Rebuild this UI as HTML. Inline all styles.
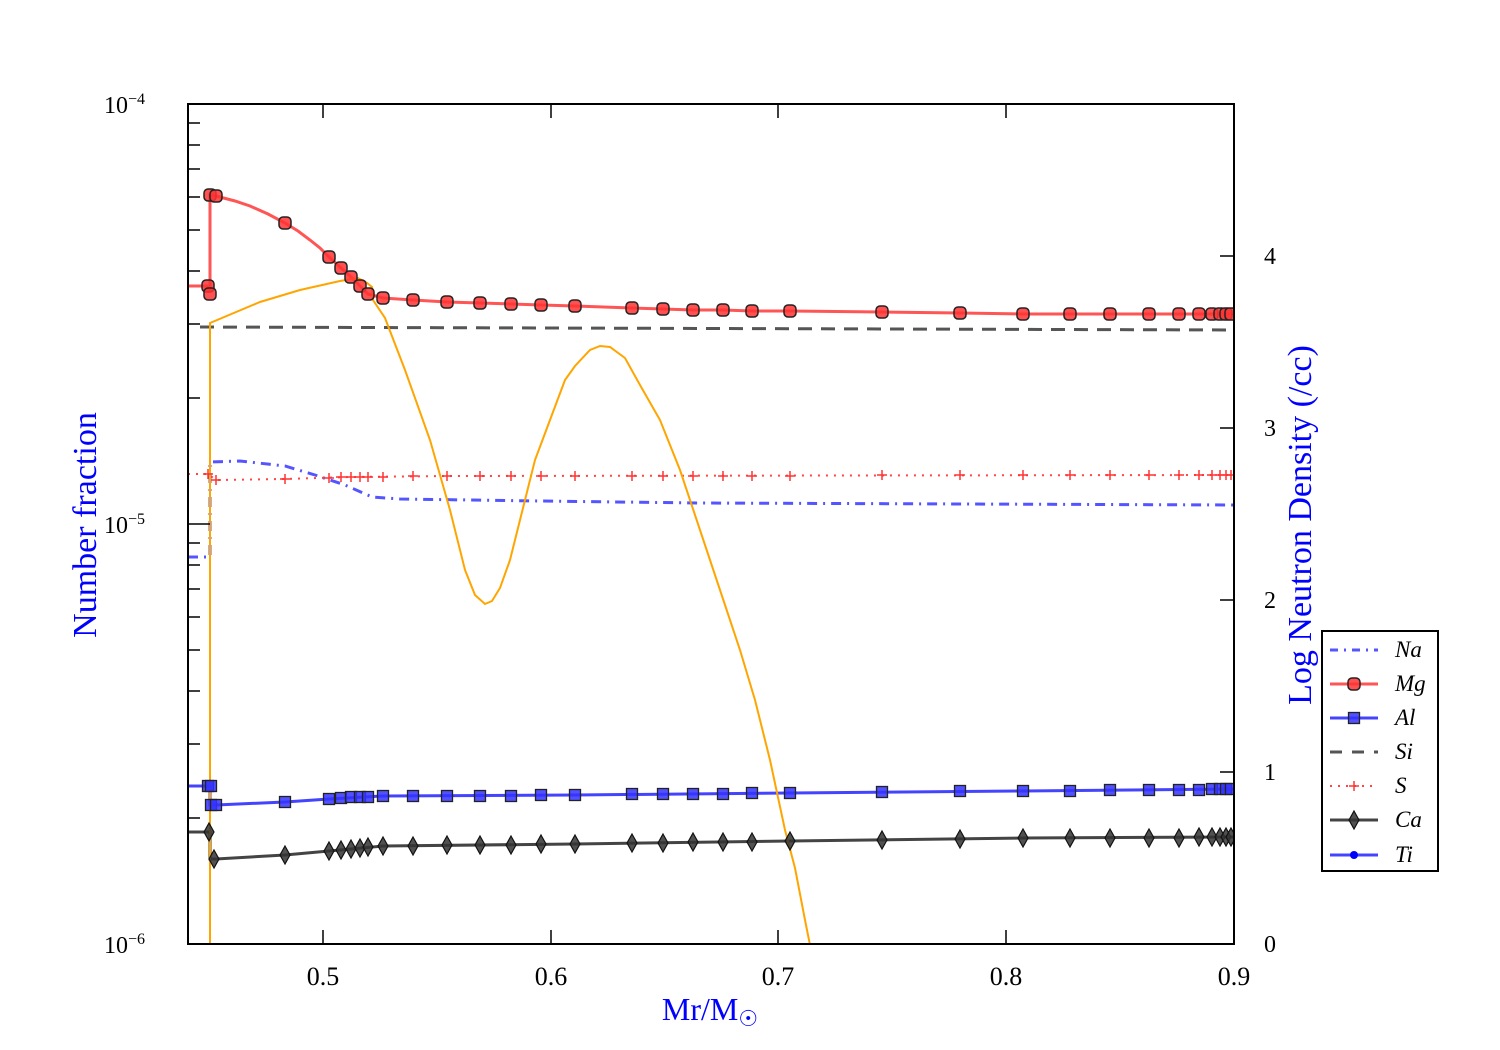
<!DOCTYPE html>
<html><head><meta charset="utf-8"><style>body{margin:0;background:#fff}svg{display:block}text{font-family:"Liberation Serif",serif}</style></head><body>
<svg width="1500" height="1050" viewBox="0 0 1500 1050" xmlns="http://www.w3.org/2000/svg">
<defs>
<clipPath id="c"><rect x="188" y="104" width="1046" height="840"/></clipPath>
<g id="mg"><rect x="-6" y="-6" width="12" height="12" rx="4" fill="#f33" fill-opacity="0.85" stroke="#222" stroke-width="1.5"/></g>
<g id="al"><rect x="-5.5" y="-5.5" width="11" height="11" fill="#33f" fill-opacity="0.85" stroke="#222" stroke-width="1.3"/></g>
<g id="ca"><path d="M0,-9 L5,0 L0,9 L-5,0Z" fill="#333" fill-opacity="0.85" stroke="#111" stroke-width="1.2"/></g>
<g id="s"><path d="M-5,0H5M0,-5V5" stroke="#f33" stroke-width="1.5"/></g>
</defs>
<g clip-path="url(#c)" fill="none">
<path d="M200,327 L1234,330" stroke="#555" stroke-width="3" stroke-dasharray="14,9"/>
<path d="M188,557 L210,557 L210,462 L240,461 L285,466 L315,475 L345,485 L372,497 L400,499 L540,501 L700,503 L1234,505" stroke="#55f" stroke-width="3" stroke-dasharray="10,6,2,6"/>
<path d="M188,474 L208,474 L216,480 L285,479 L350,477 L450,476 L1234,475" stroke="#f44" stroke-width="2" stroke-dasharray="2,6"/>
<path d="M188,786 L210,786 L210,805 L216,805 L285,802 L329,799 L383,796 L575,795 L790,793 L1023,791 L1234,789" stroke="#44f" stroke-width="3"/>
<path d="M188,832 L210,832 L210,859 L216,859 L285,855 L329,851 L383,846 L575,844 L790,841 L1023,838 L1234,837" stroke="#444" stroke-width="3"/>
<path d="M188,286 L208,286 L210,292 L210,195 L216,196 L235,201 L250,206 L268,214 L285,223 L298,231 L310,240 L320,248 L329,257 L341,268 L351,277 L360,286 L368,294 L383,298 L413,300 L447,302 L480,303 L511,304 L541,305 L575,306 L632,308 L663,309 L693,310 L723,310 L752,311 L790,311 L882,312 L960,313 L1023,314 L1234,314" stroke="#f55" stroke-width="3"/>
<path d="M210,944 L210,323 L260,302 L300,290 L340,281 L358,278 L367,283 L372,287 L373,300 L385,318 L405,370 L430,440 L450,510 L465,570 L475,595 L485,604 L492,601 L500,588 L510,560 L520,520 L535,460 L550,420 L565,380 L575,366 L590,350 L600,346 L610,347 L625,358 L640,385 L660,420 L680,470 L700,530 L720,590 L740,650 L755,700 L770,760 L785,830 L795,868 L805,920 L811,950" stroke="#ffa500" stroke-width="2"/>
<g>
<use href="#mg" x="208" y="286"/><use href="#mg" x="210" y="294"/><use href="#mg" x="210" y="195"/><use href="#mg" x="216" y="196"/>
<use href="#mg" x="285" y="223"/><use href="#mg" x="329" y="257"/><use href="#mg" x="341" y="268"/><use href="#mg" x="351" y="277"/><use href="#mg" x="360" y="286"/><use href="#mg" x="368" y="294"/><use href="#mg" x="383" y="298"/><use href="#mg" x="413" y="300"/><use href="#mg" x="447" y="302"/><use href="#mg" x="480" y="303"/><use href="#mg" x="511" y="304"/><use href="#mg" x="541" y="305"/><use href="#mg" x="575" y="306"/><use href="#mg" x="632" y="308"/><use href="#mg" x="663" y="309"/><use href="#mg" x="693" y="310"/><use href="#mg" x="723" y="310"/><use href="#mg" x="752" y="311"/><use href="#mg" x="790" y="311"/><use href="#mg" x="882" y="312"/><use href="#mg" x="960" y="313"/><use href="#mg" x="1023" y="314"/><use href="#mg" x="1070" y="314"/><use href="#mg" x="1110" y="314"/><use href="#mg" x="1149" y="314"/><use href="#mg" x="1179" y="314"/><use href="#mg" x="1199" y="314"/><use href="#mg" x="1212" y="314"/><use href="#mg" x="1220" y="314"/><use href="#mg" x="1226" y="314"/><use href="#mg" x="1231" y="314"/>
<use href="#al" x="208" y="786"/><use href="#al" x="211" y="786"/><use href="#al" x="211" y="805"/><use href="#al" x="216" y="805"/><use href="#al" x="285" y="802"/><use href="#al" x="329" y="799"/><use href="#al" x="341" y="798"/><use href="#al" x="351" y="797"/><use href="#al" x="360" y="797"/><use href="#al" x="368" y="797"/><use href="#al" x="383" y="796"/><use href="#al" x="413" y="796"/><use href="#al" x="447" y="796"/><use href="#al" x="480" y="796"/><use href="#al" x="511" y="796"/><use href="#al" x="541" y="795"/><use href="#al" x="575" y="795"/><use href="#al" x="632" y="794"/><use href="#al" x="663" y="794"/><use href="#al" x="693" y="794"/><use href="#al" x="723" y="794"/><use href="#al" x="752" y="793"/><use href="#al" x="790" y="793"/><use href="#al" x="882" y="792"/><use href="#al" x="960" y="791"/><use href="#al" x="1023" y="791"/><use href="#al" x="1070" y="791"/><use href="#al" x="1110" y="790"/><use href="#al" x="1149" y="790"/><use href="#al" x="1179" y="790"/><use href="#al" x="1199" y="790"/><use href="#al" x="1212" y="789"/><use href="#al" x="1220" y="789"/><use href="#al" x="1226" y="789"/><use href="#al" x="1231" y="789"/>
<use href="#ca" x="209" y="832"/><use href="#ca" x="214" y="859"/><use href="#ca" x="285" y="855"/><use href="#ca" x="329" y="851"/><use href="#ca" x="341" y="850"/><use href="#ca" x="351" y="849"/><use href="#ca" x="360" y="848"/><use href="#ca" x="368" y="847"/><use href="#ca" x="383" y="846"/><use href="#ca" x="413" y="846"/><use href="#ca" x="447" y="845"/><use href="#ca" x="480" y="845"/><use href="#ca" x="511" y="845"/><use href="#ca" x="541" y="844"/><use href="#ca" x="575" y="844"/><use href="#ca" x="632" y="843"/><use href="#ca" x="663" y="843"/><use href="#ca" x="693" y="842"/><use href="#ca" x="723" y="842"/><use href="#ca" x="752" y="842"/><use href="#ca" x="790" y="841"/><use href="#ca" x="882" y="840"/><use href="#ca" x="960" y="839"/><use href="#ca" x="1023" y="838"/><use href="#ca" x="1070" y="838"/><use href="#ca" x="1110" y="838"/><use href="#ca" x="1149" y="838"/><use href="#ca" x="1179" y="838"/><use href="#ca" x="1199" y="837"/><use href="#ca" x="1212" y="837"/><use href="#ca" x="1220" y="837"/><use href="#ca" x="1226" y="837"/><use href="#ca" x="1231" y="837"/>
<use href="#s" x="208" y="474"/><use href="#s" x="216" y="480"/><use href="#s" x="285" y="479"/><use href="#s" x="329" y="478"/><use href="#s" x="341" y="477"/><use href="#s" x="351" y="477"/><use href="#s" x="360" y="477"/><use href="#s" x="368" y="477"/><use href="#s" x="383" y="477"/><use href="#s" x="413" y="476"/><use href="#s" x="447" y="476"/><use href="#s" x="480" y="476"/><use href="#s" x="511" y="476"/><use href="#s" x="541" y="476"/><use href="#s" x="575" y="476"/><use href="#s" x="632" y="476"/><use href="#s" x="663" y="476"/><use href="#s" x="693" y="476"/><use href="#s" x="723" y="476"/><use href="#s" x="752" y="476"/><use href="#s" x="790" y="476"/><use href="#s" x="882" y="475"/><use href="#s" x="960" y="475"/><use href="#s" x="1023" y="475"/><use href="#s" x="1070" y="475"/><use href="#s" x="1110" y="475"/><use href="#s" x="1149" y="475"/><use href="#s" x="1179" y="475"/><use href="#s" x="1199" y="475"/><use href="#s" x="1212" y="475"/><use href="#s" x="1220" y="475"/><use href="#s" x="1226" y="475"/><use href="#s" x="1231" y="475"/>
</g>
</g>
<g stroke="#000" stroke-width="1.5" fill="none">
<rect x="188" y="104" width="1046" height="840" stroke-width="2"/>
<path d="M188,104h22M188,524h22M188,944h22"/>
<path d="M188,123h12M188,145h12M188,169h12M188,197h12M188,230h12M188,271h12M188,324h12M188,398h12M188,543h12M188,565h12M188,589h12M188,617h12M188,650h12M188,691h12M188,744h12M188,818h12"/>
<path d="M323,944v-14M551,944v-14M778,944v-14M1006,944v-14M323,104v14M551,104v14M778,104v14M1006,104v14"/>
<path d="M1234,256h-14M1234,428h-14M1234,600h-14M1234,772h-14"/>
</g>
<g font-size="26" fill="#000" text-anchor="middle">
<text x="323" y="985">0.5</text><text x="551" y="985">0.6</text><text x="778" y="985">0.7</text><text x="1006" y="985">0.8</text><text x="1234" y="985">0.9</text>
</g>
<g font-size="24" fill="#000">
<text x="104" y="113">10<tspan font-size="16" dy="-9">−4</tspan></text>
<text x="104" y="533">10<tspan font-size="16" dy="-9">−5</tspan></text>
<text x="104" y="953">10<tspan font-size="16" dy="-9">−6</tspan></text>
<text x="1264" y="264">4</text><text x="1264" y="436">3</text><text x="1264" y="608">2</text><text x="1264" y="780">1</text><text x="1264" y="952">0</text>
</g>
<text x="710" y="1020" font-size="32" fill="#00f" text-anchor="middle">Mr/M<tspan font-size="22" dy="6">☉</tspan></text>
<text transform="translate(96,525) rotate(-90)" font-size="34" fill="#00f" text-anchor="middle">Number fraction</text>
<text transform="translate(1311,525) rotate(-90)" font-size="34" fill="#00f" text-anchor="middle">Log Neutron Density (/cc)</text>
<g>
<rect x="1322" y="631" width="116" height="240" fill="#fff" stroke="#000" stroke-width="2"/>
<path d="M1330,650h48" stroke="#55f" stroke-width="3" stroke-dasharray="8,6,2,6"/>
<path d="M1330,684h48" stroke="#f55" stroke-width="3"/><use href="#mg" x="1354" y="684"/>
<path d="M1330,718h48" stroke="#44f" stroke-width="3"/><use href="#al" x="1354" y="718"/>
<path d="M1330,752h48" stroke="#555" stroke-width="3" stroke-dasharray="12,10"/>
<path d="M1330,786h48" stroke="#f44" stroke-width="2" stroke-dasharray="2,6"/><use href="#s" x="1354" y="786"/>
<path d="M1330,820h48" stroke="#444" stroke-width="3"/><use href="#ca" x="1354" y="820"/>
<path d="M1330,855h48" stroke="#44f" stroke-width="3"/><circle cx="1354" cy="855" r="4" fill="#00f"/>
<g font-size="23" font-style="italic" fill="#000">
<text x="1395" y="657">Na</text><text x="1395" y="691">Mg</text><text x="1395" y="725">Al</text><text x="1395" y="759">Si</text><text x="1395" y="793">S</text><text x="1395" y="827">Ca</text><text x="1395" y="862">Ti</text>
</g>
</g>
</svg>
</body></html>
